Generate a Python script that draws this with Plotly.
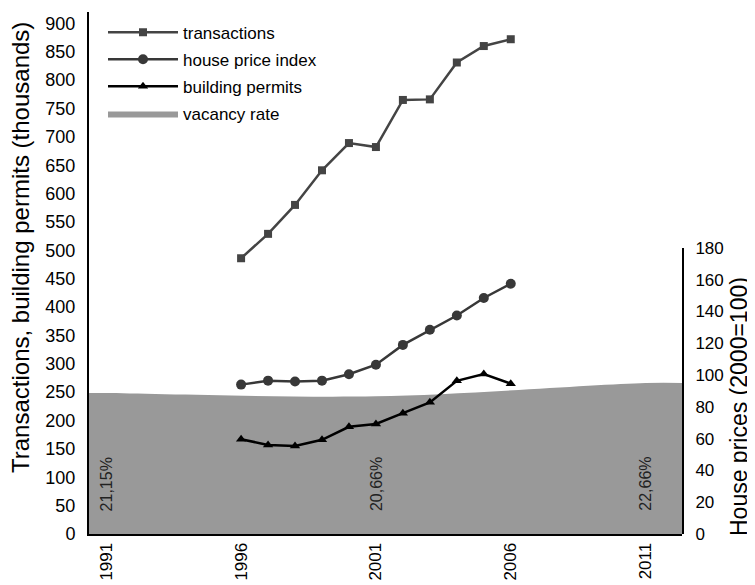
import plotly.graph_objects as go

years = [1996, 1997, 1998, 1999, 2000, 2001, 2002, 2003, 2004, 2005, 2006]
transactions = [486, 529, 580, 641, 689, 682, 765, 766, 831, 860, 872]
house_price_index = [94, 96.5, 96, 96.5, 100.5, 106.5, 119, 128.5, 137.5, 148.5, 157.5]
building_permits = [167, 157, 155, 166, 189, 194, 213, 232, 270, 282, 265]

vacancy_years = [1991, 2001, 2011]
vacancy_rate = [21.15, 20.66, 22.66]
vacancy_labels = ["21,15%", "20,66%", "22,66%"]

x_tick_years = [1991, 1996, 2001, 2006, 2011]

X_RANGE = [1990.36, 2012.35]
FONT = "Liberation Sans, Arial, sans-serif"

# page body has an 8px margin: figure is sized/offset to compensate
W, H = 747, 577
ML, MR, MT, MB = 81, 73, 4, 51
PW, PH = W - ML - MR, H - MT - MB

# vacancy area spans the whole plotting width (ends held level)
vac_x = [X_RANGE[0]] + vacancy_years + [X_RANGE[1]]
vac_y = [vacancy_rate[0]] + vacancy_rate + [vacancy_rate[-1]]

fig = go.Figure()

fig.add_trace(go.Scatter(
    x=vac_x, y=vac_y, yaxis="y3", name="vacancy rate",
    mode="lines", line=dict(width=0, shape="spline", smoothing=1.0),
    fill="tozeroy", fillcolor="#999999", legendrank=4,
    legendgroup="d", hoverinfo="skip",
))

fig.add_trace(go.Scatter(
    x=years, y=transactions, name="transactions", yaxis="y",
    mode="lines+markers", line=dict(color="#444444", width=2.5),
    marker=dict(symbol="square", size=8, color="#444444"),
    legendrank=1, legendgroup="a",
))
fig.add_trace(go.Scatter(
    x=years, y=house_price_index, name="house price index", yaxis="y2",
    mode="lines+markers", line=dict(color="#383838", width=2.5),
    marker=dict(symbol="circle", size=10, color="#383838"),
    legendrank=2, legendgroup="b",
))
fig.add_trace(go.Scatter(
    x=years, y=building_permits, name="building permits", yaxis="y",
    mode="lines+markers", line=dict(color="#000000", width=2.5),
    marker=dict(symbol="triangle-up", size=9, color="#000000"),
    legendrank=3, legendgroup="c",
))

for yr, lab in zip(vacancy_years, vacancy_labels):
    fig.add_annotation(
        x=yr, xref="x", y=0.04, yref="paper", text=lab, textangle=-90,
        showarrow=False, yanchor="bottom", xanchor="center",
        font=dict(family=FONT, size=16, color="#222222"),
    )

# axis titles
fig.add_annotation(
    x=(12 - ML) / PW, xref="paper", y=(MT + PH - 240) / PH, yref="paper",
    text="Transactions, building permits (thousands)", textangle=-90,
    showarrow=False, xanchor="center", yanchor="middle",
    font=dict(family=FONT, size=24, color="#000000"),
)
fig.add_annotation(
    x=(731 - ML) / PW, xref="paper", y=(MT + PH - 399) / PH, yref="paper",
    text="House prices (2000=100)", textangle=-90,
    showarrow=False, xanchor="center", yanchor="middle",
    font=dict(family=FONT, size=23, color="#000000"),
)

fig.update_layout(
    template="none",
    width=W, height=H,
    margin=dict(l=ML, r=MR, t=MT, b=MB, autoexpand=False),
    paper_bgcolor="white", plot_bgcolor="rgba(0,0,0,0)",
    font=dict(family=FONT, size=17, color="#000000"),
    showlegend=True,
    legend=dict(
        x=(95 - ML) / PW, y=0.995, xanchor="left", yanchor="top",
        bgcolor="rgba(0,0,0,0)", font=dict(size=17),
        tracegroupgap=2, traceorder="grouped", itemwidth=70,
    ),
    xaxis=dict(
        range=X_RANGE, tickvals=x_tick_years, tickangle=-90,
        showline=True, linecolor="#000000", linewidth=2,
        showgrid=False, zeroline=False, ticks="", automargin=False,
        tickfont=dict(size=17), anchor="y3",
    ),
    yaxis3=dict(
        range=[0, 78.3], visible=False, domain=[0, 1],
    ),
    yaxis=dict(
        range=[0, 920], tickvals=list(range(0, 901, 50)),
        overlaying="y3", side="left", anchor="x",
        showline=True, linecolor="#000000", linewidth=2,
        showgrid=False, zeroline=False, ticks="", ticklabelstandoff=8,
        tickfont=dict(size=18), automargin=False,
    ),
    yaxis2=dict(
        domain=[0, 0.548], range=[0, 180], tickvals=list(range(0, 181, 20)),
        anchor="x", side="right", automargin=False,
        showline=True, linecolor="#000000", linewidth=2,
        showgrid=False, zeroline=False, ticks="", ticklabelstandoff=8,
        tickfont=dict(size=17),
    ),
)

fig.write_html("out.html")
